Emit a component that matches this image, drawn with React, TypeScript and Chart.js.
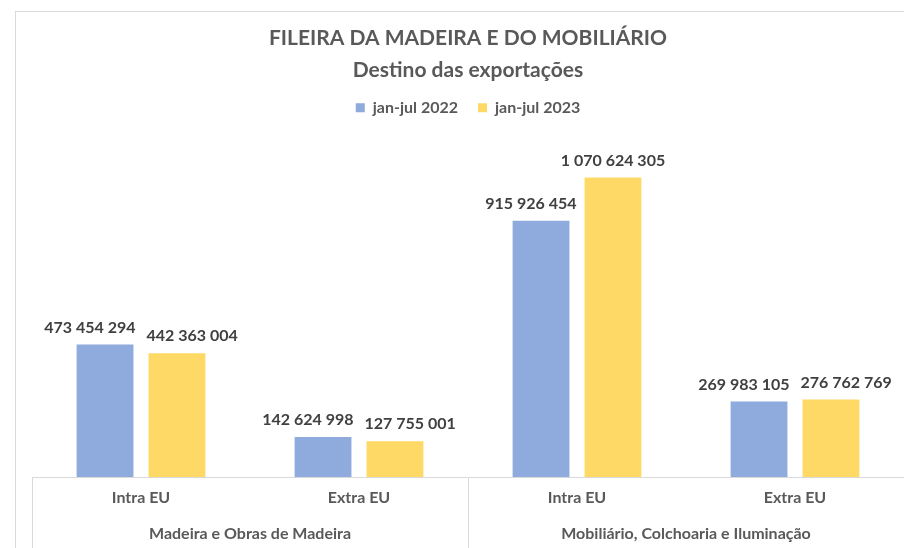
import React, { useEffect, useRef } from 'react';
import { Chart, registerables } from 'chart.js';

Chart.register(...registerables);

const subCategories = ['Intra EU', 'Extra EU', 'Intra EU', 'Extra EU'];
const groupCategories = ['Madeira e Obras de Madeira', 'Mobiliário, Colchoaria e Iluminação'];
const seriesNames = ['jan-jul 2022', 'jan-jul 2023'];
const values2022 = [473454294, 142624998, 915926454, 269983105];
const values2023 = [442363004, 127755001, 1070624305, 276762769];
const titleLines = ['FILEIRA DA MADEIRA E DO MOBILIÁRIO', 'Destino das exportações'];

const FONT = 'Lato';
const fmt = (v: number) => String(v).replace(/\B(?=(\d{3})+(?!\d))/g, ' ');

const barLabels = {
  id: 'barLabels',
  afterDatasetsDraw(chart: any) {
    const ctx = chart.ctx;
    ctx.save();
    ctx.font = `bold 16px ${FONT}`;
    ctx.fillStyle = '#404040';
    ctx.textAlign = 'center';
    ctx.textBaseline = 'middle';
    const m0 = chart.getDatasetMeta(0);
    const m1 = chart.getDatasetMeta(1);
    const gap = 11;
    const rise = 17;
    const th = 16;
    for (let i = 0; i < m0.data.length; i++) {
      const b0 = m0.data[i];
      const b1 = m1.data[i];
      const t0 = fmt(chart.data.datasets[0].data[i]);
      const t1 = fmt(chart.data.datasets[1].data[i]);
      const w0 = ctx.measureText(t0).width;
      const w1 = ctx.measureText(t1).width;
      let x0 = b0.x;
      let x1 = b1.x;
      const y0 = b0.y - rise;
      const y1 = b1.y - rise;
      if (Math.abs(y0 - y1) < th) {
        const d = gap - ((x1 - w1 / 2) - (x0 + w0 / 2));
        if (d > 0) {
          x0 -= d / 2;
          x1 += d / 2;
        }
      } else if (y0 > y1) {
        const left1 = b1.x - b1.width / 2;
        const d = x0 + w0 / 2 - (left1 - 8);
        if (d > 0) x0 -= d;
      } else {
        const right0 = b0.x + b0.width / 2;
        const d = right0 + 8 - (x1 - w1 / 2);
        if (d > 0) x1 += d;
      }
      ctx.fillText(t0, x0, y0);
      ctx.fillText(t1, x1, y1);
    }
    ctx.restore();
  },
};

export default function App() {
  const ref = useRef<HTMLCanvasElement>(null);
  useEffect(() => {
    if (!ref.current) return;
    const axisFont = { family: FONT, size: 16, weight: 'bold' as const, lineHeight: 1.125 };
    const chart = new Chart(ref.current, {
      type: 'bar',
      data: {
        labels: subCategories,
        datasets: [
          { label: seriesNames[0], data: values2022, backgroundColor: '#8FAADC', categoryPercentage: 0.66, barPercentage: 0.79 },
          { label: seriesNames[1], data: values2023, backgroundColor: '#FFD966', categoryPercentage: 0.66, barPercentage: 0.79 },
        ],
      },
      options: {
        animation: false,
        responsive: false,
        devicePixelRatio: 1,
        layout: { padding: { left: 16, right: 16, top: 0, bottom: 22 } },
        plugins: {
          title: {
            display: true,
            text: titleLines,
            color: '#595959',
            font: { family: FONT, size: 21, weight: 'bold', lineHeight: 1.52 },
            padding: { top: 10, bottom: -6 },
          },
          legend: {
            position: 'top',
            labels: {
              boxWidth: 9,
              boxHeight: 9,
              color: '#595959',
              font: { family: FONT, size: 16, weight: 'bold' },
              padding: 20,
            },
          },
          tooltip: { enabled: false },
        },
        scales: {
          x: {
            type: 'category',
            offset: true,
            grid: {
              offset: true,
              display: true,
              drawOnChartArea: false,
              drawTicks: true,
              tickLength: 30,
              color: (c: any) => (c.index === 1 || c.index === 3 ? 'rgba(0,0,0,0)' : '#d9d9d9'),
            },
            border: { display: true, color: '#d9d9d9' },
            ticks: {
              padding: -18,
              color: '#595959',
              font: axisFont,
              autoSkip: false,
              maxRotation: 0,
              callback: function (this: any, value: any) {
                return [this.getLabelForValue(value), ''];
              },
            },
          },
          x2: {
            type: 'category',
            position: 'bottom',
            labels: groupCategories,
            offset: true,
            grid: {
              offset: true,
              display: true,
              drawOnChartArea: false,
              drawTicks: true,
              tickLength: 75,
              color: '#d9d9d9',
            },
            border: { display: false },
            ticks: {
              padding: -57,
              color: '#595959',
              font: axisFont,
              autoSkip: false,
              maxRotation: 0,
              callback: function (this: any, value: any) {
                return [this.getLabelForValue(value), '', '', '', ''];
              },
            },
          },
          y: { display: false, min: 0, max: 1255000000 },
        },
      },
      plugins: [barLabels],
    });
    return () => chart.destroy();
  }, []);

  return (
    <div style={{ position: 'fixed', left: 0, top: 0, width: 904, height: 548, overflow: 'hidden', background: '#fff' }}>
      <div
        style={{
          position: 'absolute',
          left: 15,
          top: 11,
          width: 906,
          height: 570,
          border: '1px solid #d9d9d9',
          boxSizing: 'border-box',
          background: '#fff',
        }}
      >
        <canvas ref={ref} width={904} height={568} style={{ display: 'block', width: 904, height: 568 }} />
      </div>
    </div>
  );
}
